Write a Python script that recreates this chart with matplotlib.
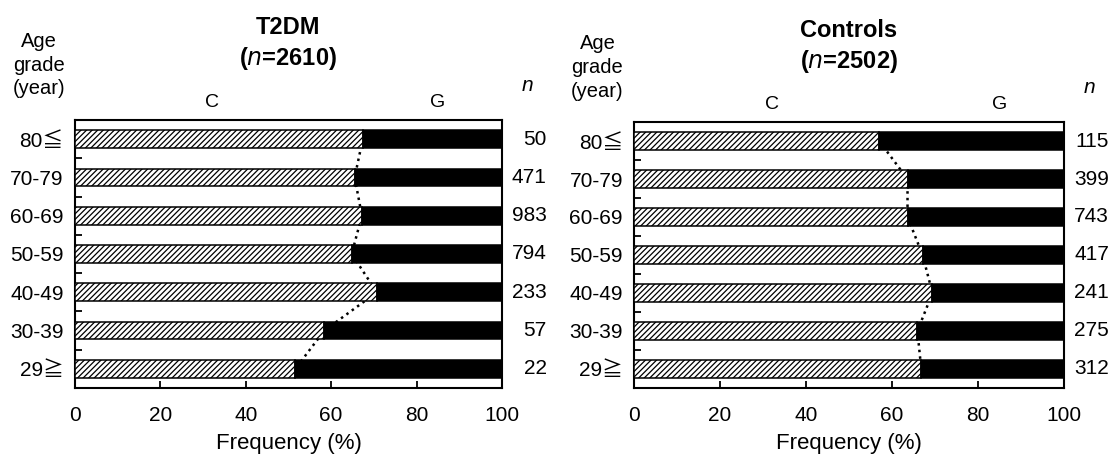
import numpy as np
import matplotlib
matplotlib.use("Agg")
import matplotlib.pyplot as plt

plt.rcParams['font.family'] = ['Liberation Sans', 'Noto Sans CJK JP', 'DejaVu Sans']
plt.rcParams['hatch.linewidth'] = 0.9
plt.rcParams['hatch.color'] = '#333333'

# age groups, top to bottom
age_groups = ['80≦', '70-79', '60-69', '50-59', '40-49', '30-39', '29≧']

# C allele frequency (%) per age group
t2dm_c = [67.4, 65.5, 67.2, 64.8, 70.7, 58.4, 51.6]
t2dm_n = [50, 471, 983, 794, 233, 57, 22]

ctrl_c = [57, 63.6, 63.6, 67.1, 69.4, 65.9, 66.8]
ctrl_n = [115, 399, 743, 417, 241, 275, 312]

panels = [
    ("T2DM", 2610, t2dm_c, t2dm_n),
    ("Controls", 2502, ctrl_c, ctrl_n),
]

fig = plt.figure(figsize=(11.17, 4.59), dpi=100)
axes_pos = [[0.0671, 0.1547, 0.3823, 0.5839],
            [0.5676, 0.1547, 0.3850, 0.5795]]

for pos, (name, total, c_vals, n_vals) in zip(axes_pos, panels):
    ax = fig.add_axes(pos)
    y = np.arange(len(age_groups))[::-1]
    c = np.array(c_vals)
    h = 0.46
    ax.barh(y, c, height=h, color='white', edgecolor='black', hatch='//////',
            linewidth=1.1, zorder=3)
    ax.barh(y, 100 - c, left=c, height=h, color='black', edgecolor='black',
            linewidth=1.1, zorder=3)
    ax.plot(c, y, linestyle=':', color='black', linewidth=1.8, zorder=2)

    ax.set_xlim(0, 100)
    ax.set_ylim(-0.5, 6.5)
    ax.set_xticks([0, 20, 40, 60, 80, 100])
    ax.set_yticks(y)
    ax.set_yticklabels(age_groups)
    ax.set_yticks(np.arange(-0.5, 7, 1), minor=True)
    ax.tick_params(axis='y', which='major', length=0, pad=8, labelsize=15)
    ax.tick_params(axis='y', which='minor', direction='in', length=5, width=1.3)
    ax.tick_params(axis='x', direction='in', length=5, width=1.3, pad=13, labelsize=15)
    for s in ax.spines.values():
        s.set_linewidth(1.5)
    ax.set_xlabel('Frequency (%)', fontsize=16, labelpad=6)

    ax.text(0.5, 1.345, name, transform=ax.transAxes, ha='center', va='center',
            fontsize=17, fontweight='bold')
    ax.text(0.5, 1.228, r'($\mathbf{\mathit{n}}$=%d)' % total, transform=ax.transAxes,
            ha='center', va='center', fontsize=17, fontweight='bold')
    ax.text(-0.085, 1.205, 'Age\ngrade\n(year)', transform=ax.transAxes,
            ha='center', va='center', fontsize=14.5, linespacing=1.32)
    ax.text(32, 1.067, 'C', transform=ax.get_xaxis_transform(), ha='center',
            va='center', fontsize=14)
    ax.text(85, 1.067, 'G', transform=ax.get_xaxis_transform(), ha='center',
            va='center', fontsize=14)
    ax.text(1.06, 1.13, 'n', transform=ax.transAxes, ha='center', va='center',
            fontsize=15, style='italic')
    for yi, nv in zip(y, n_vals):
        ax.text(1.105, yi, str(nv), transform=ax.get_yaxis_transform(),
                ha='right', va='center', fontsize=15)

fig.savefig('out.png', dpi=100)
